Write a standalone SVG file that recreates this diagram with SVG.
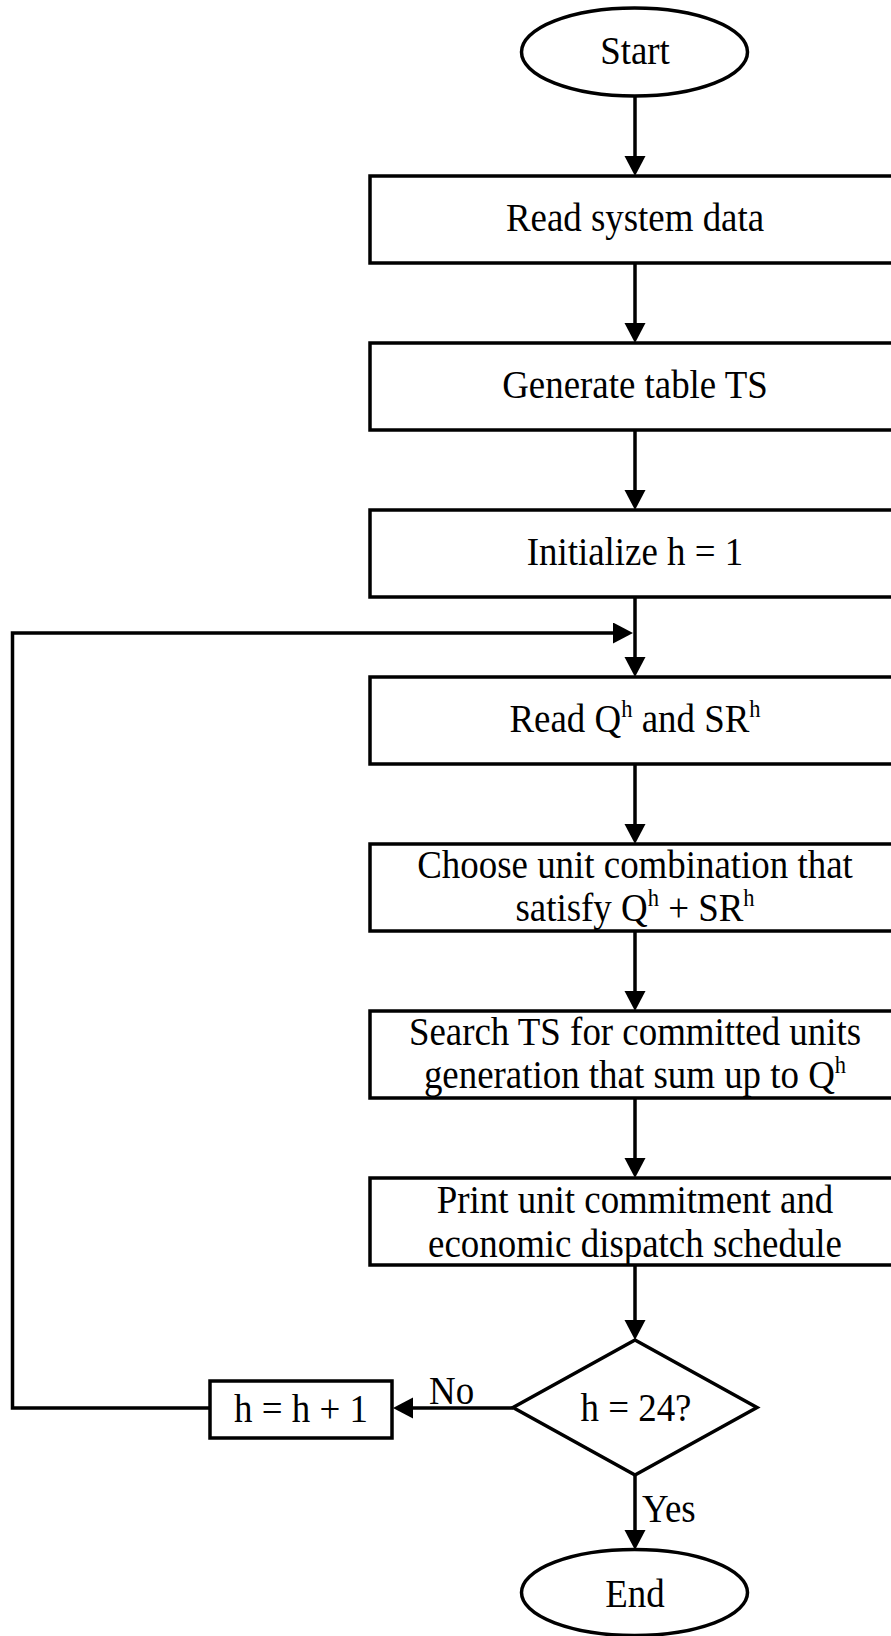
<svg xmlns="http://www.w3.org/2000/svg" width="891" height="1636" viewBox="0 0 891 1636">
<style>
.s{fill:#fff;stroke:#000;stroke-width:3.5}
.c{fill:none;stroke:#000;stroke-width:3.5}
text{font-family:"Liberation Serif","Times New Roman",serif;font-size:41px;fill:#000;text-anchor:middle}
.sup{font-size:25px}
.lbl{text-anchor:start}
</style>
<defs>
<marker id="ah" markerUnits="userSpaceOnUse" markerWidth="21" markerHeight="22" refX="10" refY="10.5" orient="auto">
<path d="M0,0 L20,10.5 L0,21 Z" fill="#000"/>
</marker>
</defs>
<rect width="891" height="1636" fill="#fff"/>
<g id="connectors">
<line class="c" x1="635" y1="96" x2="635" y2="166" marker-end="url(#ah)"/>
<line class="c" x1="635" y1="263" x2="635" y2="333" marker-end="url(#ah)"/>
<line class="c" x1="635" y1="430" x2="635" y2="500" marker-end="url(#ah)"/>
<line class="c" x1="635" y1="597" x2="635" y2="667" marker-end="url(#ah)"/>
<line class="c" x1="635" y1="764" x2="635" y2="834" marker-end="url(#ah)"/>
<line class="c" x1="635" y1="931" x2="635" y2="1001" marker-end="url(#ah)"/>
<line class="c" x1="635" y1="1098" x2="635" y2="1168" marker-end="url(#ah)"/>
<line class="c" x1="635" y1="1265" x2="635" y2="1330" marker-end="url(#ah)"/>
<line class="c" x1="635" y1="1475" x2="635" y2="1540" marker-end="url(#ah)"/>
<line class="c" x1="513" y1="1408" x2="403" y2="1408" marker-end="url(#ah)"/>
<polyline class="c" points="210,1408 12.5,1408 12.5,633 623,633" marker-end="url(#ah)"/>
<text class="lbl" transform="translate(429,1404) scale(0.9,1)">No</text>
<text class="lbl" transform="translate(642,1522) scale(0.9,1)">Yes</text>
</g>
<g id="start">
<ellipse class="s" cx="634.5" cy="52" rx="113" ry="44"/>
<text transform="translate(635,64) scale(0.9,1)">Start</text>
</g>
<g id="read-data">
<rect class="s" x="370" y="176" width="540" height="87"/>
<text transform="translate(635,231) scale(0.9,1)">Read system data</text>
</g>
<g id="generate-ts">
<rect class="s" x="370" y="343" width="540" height="87"/>
<text transform="translate(635,398) scale(0.9,1)">Generate table TS</text>
</g>
<g id="init-h">
<rect class="s" x="370" y="510" width="540" height="87"/>
<text transform="translate(635,565) scale(0.9,1)">Initialize h = 1</text>
</g>
<g id="read-q">
<rect class="s" x="370" y="677" width="540" height="87"/>
<text transform="translate(635,732) scale(0.9,1)">Read Q<tspan class="sup" dy="-15">h</tspan><tspan dy="15"> and SR</tspan><tspan class="sup" dy="-15">h</tspan></text>
</g>
<g id="choose">
<rect class="s" x="370" y="844" width="540" height="87"/>
<text transform="translate(635,878) scale(0.9,1)">Choose unit combination that</text>
<text transform="translate(635,921) scale(0.9,1)">satisfy Q<tspan class="sup" dy="-15">h</tspan><tspan dy="15"> + SR</tspan><tspan class="sup" dy="-15">h</tspan></text>
</g>
<g id="search">
<rect class="s" x="370" y="1011" width="540" height="87"/>
<text transform="translate(635,1045) scale(0.9,1)">Search TS for committed units</text>
<text transform="translate(635,1088) scale(0.9,1)">generation that sum up to Q<tspan class="sup" dy="-15">h</tspan></text>
</g>
<g id="print">
<rect class="s" x="370" y="1178" width="540" height="87"/>
<text transform="translate(635,1213) scale(0.9,1)">Print unit commitment and</text>
<text transform="translate(635,1257) scale(0.9,1)">economic dispatch schedule</text>
</g>
<g id="decision">
<polygon class="s" points="635,1340 757,1407.5 635,1475 513,1407.5"/>
<text transform="translate(636,1421) scale(0.9,1)">h = 24?</text>
</g>
<g id="increment">
<rect class="s" x="210" y="1381" width="182" height="57"/>
<text transform="translate(301,1422) scale(0.9,1)">h = h + 1</text>
</g>
<g id="end">
<ellipse class="s" cx="634.5" cy="1592.5" rx="113" ry="43"/>
<text transform="translate(635,1607) scale(0.9,1)">End</text>
</g>
</svg>
